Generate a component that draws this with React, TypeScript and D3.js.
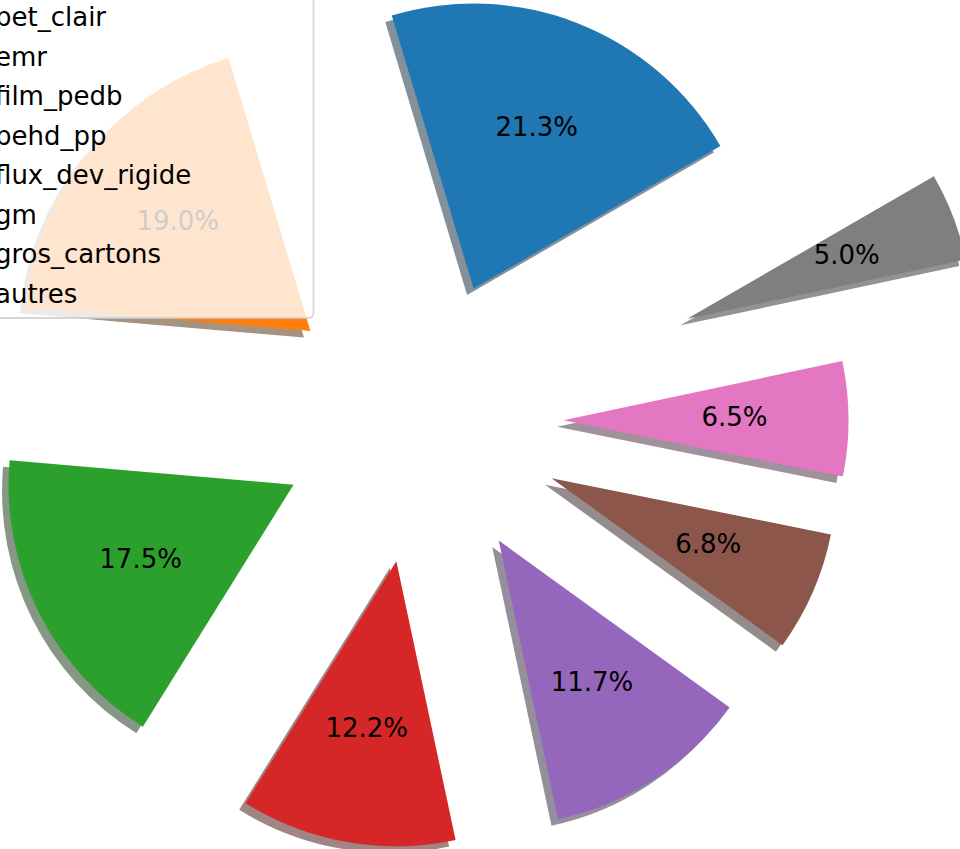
import React from "react";
import * as d3 from "d3";

const categories = ["pet_clair", "emr", "film_pedb", "pehd_pp", "flux_dev_rigide", "gm", "gros_cartons", "autres"];
const values = [21.3, 19.0, 17.5, 12.2, 11.7, 6.8, 6.5, 5.0];
const colors = ["#1f77b4", "#ff7f0e", "#2ca02c", "#d62728", "#9467bd", "#8c564b", "#e377c2", "#7f7f7f"];
const explode = [0.5, 0.5, 0.5, 0.5, 0.5, 0.5, 0.5, 1.0];

const W = 960;
const H = 849;
const CX = 421;
const CY = 421;
const R = 285;
const START_DEG = 30; // matplotlib startangle (CCW from +x)
const SHADOW = 6.5;
const FONT = "DejaVu Sans, Liberation Sans, sans-serif";
const FS = 26;

function shade(hex: string): string {
  const c = d3.rgb(hex);
  return d3.rgb(c.r * 0.3, c.g * 0.3, c.b * 0.3).formatHex();
}

export default function App() {
  const total = d3.sum(values);
  const a0 = ((90 - START_DEG) * Math.PI) / 180;
  const pie = d3
    .pie<number>()
    .sort(null)
    .value((d) => d)
    .startAngle(a0)
    .endAngle(a0 - 2 * Math.PI);
  const arcs = pie(values);
  const arcGen = d3.arc<d3.PieArcDatum<number>>().innerRadius(0).outerRadius(R);

  const items = arcs.map((a, i) => {
    const mid = (a.startAngle + a.endAngle) / 2;
    const ux = Math.sin(mid);
    const uy = -Math.cos(mid);
    const ox = CX + explode[i] * R * ux;
    const oy = CY + explode[i] * R * uy;
    const lx = ox + 0.6 * R * ux;
    const ly = oy + 0.6 * R * uy;
    return { a, i, ox, oy, lx, ly, path: arcGen(a) || "" };
  });

  const rowStep = 39.57;
  const firstBaseline = 26;
  const textX = -5;

  return (
    <svg
      width={W}
      height={H}
      style={{ position: "absolute", left: 0, top: 0, background: "#ffffff" }}
      fontFamily={FONT}
    >
      <rect x={0} y={0} width={W} height={H} fill="#ffffff" />
      {items.map((it) => (
        <path
          key={"s" + it.i}
          d={it.path}
          transform={`translate(${it.ox - SHADOW},${it.oy + SHADOW})`}
          fill={shade(colors[it.i])}
          fillOpacity={0.5}
        />
      ))}
      {items.map((it) => (
        <path key={"w" + it.i} d={it.path} transform={`translate(${it.ox},${it.oy})`} fill={colors[it.i]} />
      ))}
      {items.map((it) => (
        <text
          key={"t" + it.i}
          x={it.lx}
          y={it.ly + 0.26 * FS}
          textAnchor="middle"
          fontSize={FS}
          fill="#000000"
        >
          {((values[it.i] / total) * 100).toFixed(1) + "%"}
        </text>
      ))}
      <g>
        <rect
          x={-120}
          y={-40}
          width={313.5 + 120}
          height={318 + 40}
          rx={5}
          ry={5}
          fill="#ffffff"
          fillOpacity={0.8}
          stroke="#cccccc"
          strokeOpacity={0.8}
          strokeWidth={1.8}
        />
        {categories.map((c, i) => (
          <g key={"l" + i}>
            <rect
              x={textX - 21 - 52}
              y={firstBaseline + i * rowStep - 18}
              width={52}
              height={18}
              fill={colors[i]}
            />
            <text x={textX} y={firstBaseline + i * rowStep} fontSize={FS} fill="#000000">
              {c}
            </text>
          </g>
        ))}
      </g>
    </svg>
  );
}
